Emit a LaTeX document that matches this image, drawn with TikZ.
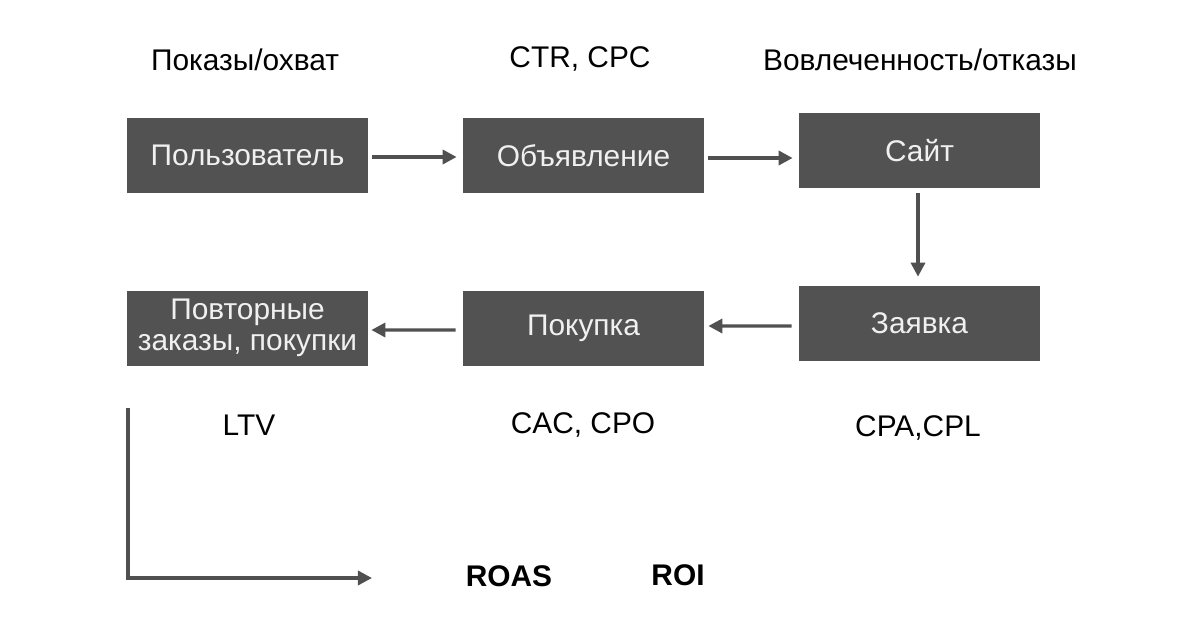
\documentclass[tikz,border=0pt]{standalone}
\usepackage{fontspec}
\setmainfont{Liberation Sans}
\usepackage{tikz}
\usetikzlibrary{arrows.meta}
\definecolor{boxgray}{HTML}{525252}
\definecolor{linegray}{HTML}{505050}
\tikzstyle{stage}=[fill=boxgray, text=white!94!black, minimum width=241*0.02cm, minimum height=75*0.02cm, inner sep=0pt, align=center, font=\fontsize{17}{17.6}\selectfont]
\tikzstyle{metric}=[font=\fontsize{17}{19}\selectfont]
\tikzstyle{total}=[font=\fontsize{17}{19}\selectfont\bfseries]
\tikzstyle{flow}=[draw=linegray, line width=1.9pt, -{Triangle[length=8pt,width=8pt]}]

\begin{document}
\begin{tikzpicture}[x=0.02cm, y=-0.02cm]
	\useasboundingbox (0,0) rectangle (1200,635);
	\node[stage] (user) at (247.5,155.5) {Пользователь};
	\node[stage] (ad) at (583.5,155.5) {Объявление};
	\node[stage] (site) at (919.5,150.5) {Сайт};
	\node[stage] (lead) at (919.5,323.5) {Заявка};
	\node[stage] (buy) at (583.5,328.5) {Покупка};
	\node[stage] (repeat) at (247.5,328) {Повторные\\заказы, покупки};
	\node[metric] (reach) at (245,60) {Показы/охват};
	\node[metric] (ctr) at (580,59) {CTR, CPC};
	\node[metric] (engage) at (920,60) {Вовлеченность/отказы};
	\node[metric] (ltv) at (249,425) {LTV};
	\node[metric] (cac) at (583,425) {CAC, CPO};
	\node[metric] (cpa) at (918,428) {CPA,CPL};
	\node[total] (roas) at (509,576) {ROAS};
	\node[total] (roi) at (678,575) {ROI};
	\draw[flow] ([xshift=4*0.02cm,yshift=-1.5*0.02cm]user.east) -- ([xshift=-6*0.02cm,yshift=-1.5*0.02cm]ad.west);
	\draw[flow] ([xshift=4*0.02cm,yshift=-2.5*0.02cm]ad.east) -- ([xshift=-6*0.02cm,yshift=-7.5*0.02cm]site.west);
	\draw[flow] ([xshift=-1.5*0.02cm,yshift=-5*0.02cm]site.south) -- ([xshift=-1.5*0.02cm,yshift=9*0.02cm]lead.north);
	\draw[flow] ([xshift=-7*0.02cm,yshift=-2.5*0.02cm]lead.west) -- ([xshift=4*0.02cm,yshift=2.5*0.02cm]buy.east);
	\draw[flow] ([xshift=-7*0.02cm,yshift=-1.5*0.02cm]buy.west) -- ([xshift=3*0.02cm,yshift=-2*0.02cm]repeat.east);
	% ROAS / ROI axis
	\coordinate (axtop) at (128,408);
	\coordinate (axcorner) at (128,578);
	\coordinate (axend) at (372,578);
	\draw[flow] (axtop) -- (axcorner) -- (axend);
\end{tikzpicture}
\end{document}
